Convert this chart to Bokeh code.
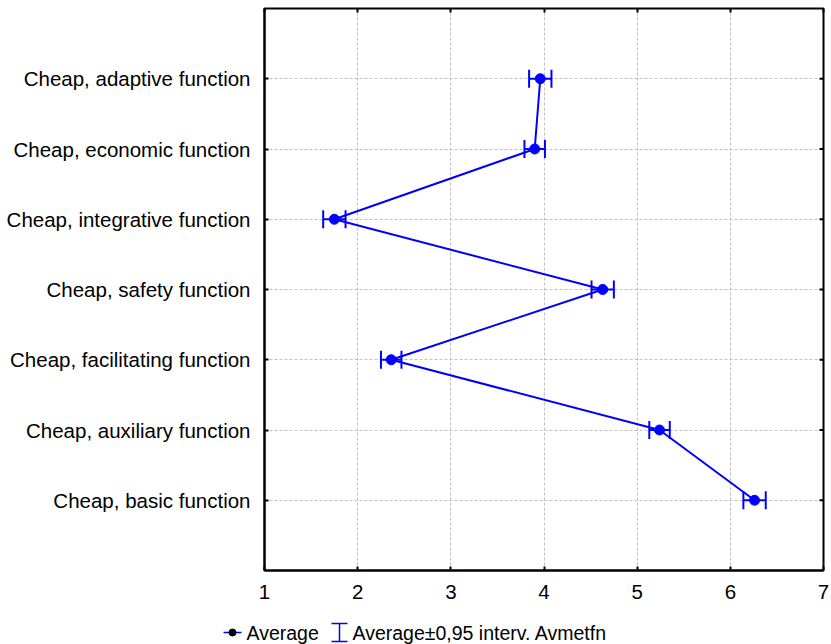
import math
from bokeh.plotting import figure
from bokeh.models import (FactorRange, Range1d, ColumnDataSource, CategoricalAxis, LinearAxis,
                          FixedTicker, Whisker, TeeHead)
from bokeh.layouts import column, row
from bokeh.core.properties import value
from bokeh.embed import file_html
from bokeh.resources import INLINE

# ---- data (bottom to top) ----
categories = [
    "Cheap, basic function",
    "Cheap, auxiliary function",
    "Cheap, facilitating function",
    "Cheap, safety function",
    "Cheap, integrative function",
    "Cheap, economic function",
    "Cheap, adaptive function",
]
averages = [6.26, 5.24, 2.36, 4.63, 1.75, 3.90, 3.96]
ci_half = [0.12, 0.11, 0.11, 0.12, 0.12, 0.11, 0.12]
x_ticks = [1, 2, 3, 4, 5, 6, 7]
legend_labels = ["Average", "Average\u00b10,95 interv. Avmetfn"]

FONT = "Liberation Sans"
FS = "20.5px"
LFS = "19.5px"
BLUE = "#0000ff"
H_MAIN = 608
H_LEG = 644 - H_MAIN

lower = [a - h for a, h in zip(averages, ci_half)]
upper = [a + h for a, h in zip(averages, ci_half)]
src = ColumnDataSource(dict(cat=categories, avg=averages, lo=lower, hi=upper))

p = figure(width=831, height=H_MAIN, output_backend="svg", toolbar_location=None,
           x_range=Range1d(x_ticks[0], x_ticks[-1]),
           y_range=FactorRange(factors=categories, range_padding=0.5, range_padding_units="absolute"),
           min_border_left=264, min_border_right=8, min_border_top=8, min_border_bottom=38,
           x_axis_location=None, y_axis_location=None)
p.outline_line_color = "black"
p.outline_line_width = 2
p.background_fill_color = "white"
p.border_fill_color = "white"

def style(ax, labels=True):
    ax.axis_line_color = "black" if labels else None
    ax.axis_line_width = 2
    ax.major_tick_in = 4
    ax.major_tick_out = 0
    ax.major_tick_line_color = "black"
    ax.major_tick_line_width = 2
    ax.minor_tick_line_color = None
    ax.major_label_text_font = FONT
    ax.major_label_text_font_size = FS if labels else "1px"
    ax.major_label_text_color = "black"
    ax.major_label_standoff = 8 if labels else 0

xb = LinearAxis(ticker=FixedTicker(ticks=x_ticks)); style(xb); xb.major_label_standoff = 14
xt = LinearAxis(ticker=FixedTicker(ticks=x_ticks)); style(xt, False)
xt.major_label_overrides = {t: "" for t in x_ticks}
yl = CategoricalAxis(); style(yl); yl.major_label_standoff = 14
p.add_layout(xb, "below")
p.add_layout(xt, "above")
p.add_layout(yl, "left")

p.xgrid.ticker = FixedTicker(ticks=x_ticks[1:-1])
for g in (p.xgrid, p.ygrid):
    g.grid_line_color = "#c0c0c0"
    g.grid_line_dash = "3 2"
    g.grid_line_width = 1

# inward tick marks on the right edge of the frame
p.scatter(x=[x_ticks[-1]] * len(categories), y=categories, marker="dash", size=8,
          line_color="black", line_width=2)

# data marks
p.line("avg", "cat", source=src, line_color=BLUE, line_width=2)
p.add_layout(Whisker(source=src, base="cat", lower="lo", upper="hi", dimension="width",
                     line_color=BLUE, line_width=2,
                     lower_head=TeeHead(size=18, line_color=BLUE, line_width=2),
                     upper_head=TeeHead(size=18, line_color=BLUE, line_width=2)))
p.scatter("avg", "cat", source=src, size=10, fill_color=BLUE, line_color=BLUE)

# legend strip (pixel coordinates of the strip)
lg = figure(width=831, height=H_LEG, output_backend="svg", toolbar_location=None,
            x_range=Range1d(0, 831), y_range=Range1d(H_LEG, 0),
            min_border=0, x_axis_location=None, y_axis_location=None)
lg.outline_line_color = None
lg.xgrid.visible = False
lg.ygrid.visible = False
lg.background_fill_color = "white"
lg.border_fill_color = "white"
cy = 632 - H_MAIN
lg.segment(x0=[223], y0=[cy], x1=[241], y1=[cy], line_color=BLUE, line_width=1.5)
lg.scatter(x=[232], y=[cy], size=7, fill_color="black", line_color="black")
lg.segment(x0=[339, 331, 331], y0=[cy - 9, cy - 9, cy + 9], x1=[339, 347, 347],
           y1=[cy + 9, cy - 9, cy + 9], line_color=BLUE, line_width=1.5)
lg.text(x=[246, 352], y=[cy, cy], text=legend_labels, text_font=value(FONT),
        text_font_size=LFS, text_baseline="middle", text_align="left", text_color="black")

layout = column(p, row(lg), spacing=0)
open("out.html", "w").write(file_html(layout, INLINE))
